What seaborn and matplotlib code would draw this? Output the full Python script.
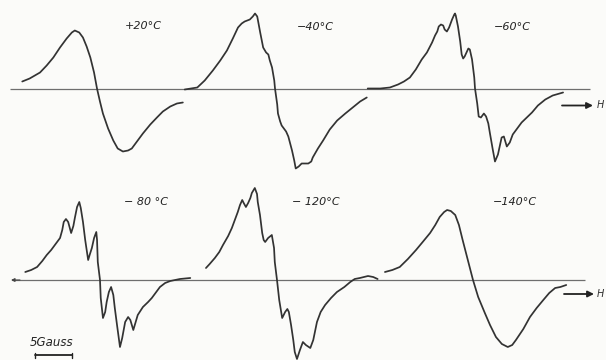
import matplotlib
matplotlib.use("Agg")
import matplotlib.pyplot as plt
import seaborn as sns
import pandas as pd

# ---------------- data (field offset from zero crossing in Gauss, signal in arbitrary units) -------------
labels = ["+20°C", "−40°C", "−60°C", "− 80 °C", "− 120°C", "−140°C"]

field_p20 = [-10.1, -9.1, -7.7, -6.8, -5.9, -5.0, -4.1, -3.4, -3.0, -2.4, -1.9, -1.4, -0.9, -0.4, 0.0,
             0.4, 0.8, 1.5, 2.2, 2.8, 3.5, 4.2, 4.7, 5.4, 6.2, 7.2, 8.1, 8.9, 9.9, 10.8, 11.6]
signal_p20 = [7, 10, 16, 23, 31, 41, 50, 56, 58, 56, 51, 42, 31, 16, 0,
              -13, -25, -40, -52, -60, -63, -62, -60, -53, -45, -36, -29, -23, -18, -15, -14]

field_m40 = [-12.2, -10.5, -9.5, -8.4, -7.4, -6.5, -5.7, -5.0, -4.5, -4.1, -3.4, -3.0, -2.7, -2.4, -2.3,
             -2.0, -1.6, -1.2, -0.9, -0.7, -0.4, -0.1, 0.0, 0.3, 0.4, 0.7, 0.9, 1.5, 1.8, 2.3, 2.6, 2.8,
             3.2, 3.6, 4.5, 4.9, 5.1, 5.8, 6.5, 7.4, 8.4, 9.5, 10.5, 11.5, 12.4]
signal_m40 = [-1, 1, 8, 18, 28, 38, 50, 61, 65, 67, 69, 72, 75, 72, 68,
              56, 41, 36, 34, 28, 21, 8, 0, -16, -25, -33, -37, -43, -48, -62, -72, -80,
              -78, -75, -75, -73, -69, -60, -52, -41, -32, -25, -19, -13, -9]

field_m60 = [-14.5, -12.8, -11.5, -10.4, -9.6, -8.8, -8.0, -7.2, -6.5, -5.8, -5.4, -5.1, -4.9, -4.6,
             -4.3, -4.1, -3.8, -3.5, -3.1, -2.8, -2.7, -2.6, -2.3, -2.0, -1.8, -1.6, -1.4, -0.9, -0.7,
             -0.4, -0.1, 0.0, 0.3, 0.5, 0.8, 1.2, 1.5, 1.8, 2.0, 2.4, 2.7, 3.1, 3.6, 3.9, 4.3, 4.7,
             5.1, 5.8, 6.3, 7.0, 7.7, 8.5, 9.5, 10.5, 11.9]
signal_m60 = [0, 0, 1, 4, 7, 11, 19, 29, 36, 46, 53, 57, 62, 64,
              63, 59, 57, 61, 69, 74, 75, 73, 62, 47, 34, 30, 32, 40, 39,
              29, 11, 0, -15, -28, -29, -25, -28, -35, -44, -61, -73, -66, -49, -48, -58, -54,
              -46, -39, -34, -29, -24, -17, -11, -7, -4]

field_m80 = [-10.1, -9.3, -8.5, -7.8, -7.2, -6.6, -6.1, -5.7, -5.4, -5.1, -4.9, -4.6, -4.3, -3.9,
             -3.6, -3.4, -3.1, -2.8, -2.6, -2.3, -2.0, -1.6, -1.4, -1.1, -0.8, -0.5, -0.4, -0.3, 0.0,
             0.1, 0.4, 0.7, 0.9, 1.2, 1.5, 1.8, 2.0, 2.3, 2.7, 3.0, 3.4, 3.8, 4.1, 4.5, 4.7, 5.1,
             5.8, 6.5, 7.0, 7.6, 8.1, 8.8, 9.5, 10.8, 12.2]
signal_m80 = [8, 10, 13, 19, 25, 30, 35, 39, 42, 50, 58, 61, 58, 47,
              54, 62, 73, 78, 72, 58, 40, 20, 25, 32, 42, 48, 40, 18, 0,
              -18, -38, -32, -22, -12, -7, -15, -28, -45, -67, -58, -42, -37, -40, -50, -45, -35,
              -27, -22, -18, -12, -7, -3, -1, 1, 2]

field_m120 = [-9.6, -9.1, -8.4, -7.8, -7.3, -6.6, -6.1, -5.7, -5.3, -5.0, -4.7, -4.5, -4.2, -3.9,
              -3.6, -3.4, -3.0, -2.7, -2.6, -2.3, -2.0, -1.8, -1.6, -1.2, -0.7, -0.4, -0.3, 0.0,
              0.3, 0.7, 1.1, 1.4, 1.6, 1.9, 2.2, 2.4, 2.7, 3.1, 3.5, 3.9, 4.5, 4.9, 5.4, 5.9, 6.5,
              7.3, 8.1, 9.1, 9.9, 10.5, 11.2, 12.3, 13.0, 13.6]
signal_m120 = [12, 16, 22, 28, 35, 44, 52, 60, 68, 75, 80, 77, 73, 77,
               82, 87, 92, 86, 78, 65, 47, 40, 38, 42, 45, 32, 18, 0,
               -20, -38, -32, -29, -32, -45, -60, -72, -79, -70, -62, -65, -68, -60, -42, -32, -25,
               -18, -12, -7, -2, 1, 2, 4, 3, 1]

field_m140 = [-11.9, -10.9, -9.9, -8.8, -7.7, -6.8, -5.8, -5.1, -4.5, -3.9, -3.5, -3.0, -2.4, -1.9,
              -1.4, -0.7, 0.0, 0.7, 1.6, 2.3, 3.1, 3.9, 4.7, 5.3, 5.8, 6.8, 7.7, 8.6, 9.5, 10.3,
              11.1, 11.8, 12.6]
signal_m140 = [8, 10, 13, 21, 30, 38, 47, 55, 63, 68, 70, 69, 65, 55,
               40, 20, 0, -17, -33, -45, -57, -64, -67, -65, -60, -49, -37, -28, -20, -13,
               -8, -7, -5]

scale_bar_gauss = 5
scale_label = "5Gauss"
field_symbol = "H"

# ---------------- layout (figure pixel units) ----------------
W, H = 606, 360
PX_PER_GAUSS = 7.4
row_baseline = [88.5, 280.0]
row_extent = [(10, 590), (12, 585)]
centers = [(97, 0), (275, 0), (475, 0), (100, 1), (277, 1), (473, 1)]
label_pos = [(143, 26), (315, 27), (512, 27), (146, 202), (316, 202), (515, 202)]
arrow_pos = [(562, 593, 105.5), (564, 594, 294)]

series = [(field_p20, signal_p20), (field_m40, signal_m40), (field_m60, signal_m60),
          (field_m80, signal_m80), (field_m120, signal_m120), (field_m140, signal_m140)]

sns.set_theme(style="white")
plt.rcParams["font.family"] = ["DejaVu Sans"]

BG = "#fbfbf9"
INK = "#333333"

fig = plt.figure(figsize=(W / 100, H / 100), dpi=100, facecolor=BG)
ax = fig.add_axes([0, 0, 1, 1])
ax.set_facecolor(BG)
ax.set_xlim(0, W)
ax.set_ylim(H, 0)
ax.axis("off")

# baselines
for base, (x0, x1) in zip(row_baseline, row_extent):
    ax.plot([x0, x1], [base, base], color="#6e6e6e", lw=0.9, solid_capstyle="butt")

# spectra
for (fld, sig), (cx, row) in zip(series, centers):
    base = row_baseline[row]
    df = pd.DataFrame({"x": [cx + f * PX_PER_GAUSS for f in fld],
                       "y": [base - s for s in sig]})
    sns.lineplot(data=df, x="x", y="y", sort=False, estimator=None, ax=ax,
                 color=INK, lw=1.25)
    ax.lines[-1].set_solid_joinstyle("round")
    ax.lines[-1].set_solid_capstyle("round")

ax.set_xlim(0, W)
ax.set_ylim(H, 0)
ax.set_xlabel("")
ax.set_ylabel("")

# temperature labels
for lab, (lx, ly) in zip(labels, label_pos):
    ax.text(lx, ly, lab, ha="center", va="center", fontsize=8, style="italic", color="#222222")

# field direction arrows
for (x0, x1, y) in arrow_pos:
    ax.annotate("", xy=(x1, y), xytext=(x0, y),
                arrowprops=dict(arrowstyle="-|>", color="#222222", lw=1.3, mutation_scale=9,
                                shrinkA=0, shrinkB=0))
    ax.text(597, y, field_symbol, ha="left", va="center", fontsize=7, style="italic",
            color="#333333")

# small left marker on lower baseline
ax.annotate("", xy=(11, row_baseline[1]), xytext=(20, row_baseline[1]),
            arrowprops=dict(arrowstyle="-|>", color="#444444", lw=0.8, mutation_scale=5,
                            shrinkA=0, shrinkB=0))

# scale bar
sb_x0, sb_y = 35, 355
sb_x1 = sb_x0 + scale_bar_gauss * PX_PER_GAUSS
ax.plot([sb_x0, sb_x1], [sb_y, sb_y], color="#222222", lw=1.3)
ax.plot([sb_x0, sb_x0], [sb_y - 2.5, sb_y + 2.5], color="#222222", lw=1.0)
ax.plot([sb_x1, sb_x1], [sb_y - 2.5, sb_y + 2.5], color="#222222", lw=1.0)
ax.text(52, 343, scale_label, ha="center", va="center", fontsize=8.5, style="italic", color="#222222")

fig.savefig("out.png", dpi=100, facecolor=BG)
